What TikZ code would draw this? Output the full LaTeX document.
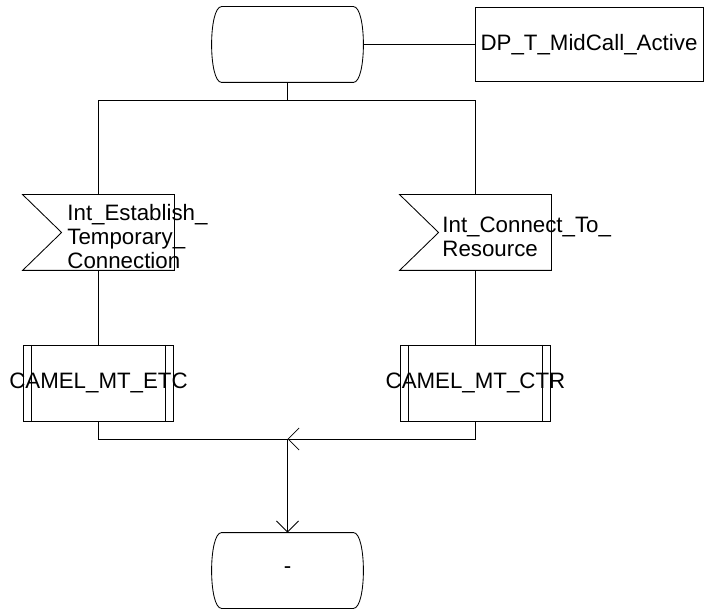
\documentclass[tikz,border=0pt]{standalone}
\usepackage{fontspec}
\setmainfont{Liberation Sans}
\usetikzlibrary{arrows.meta,positioning}

% outlines drawn round plain rectangle nodes
\newcommand{\sdlstate}[1]{\draw ([xshift=10pt]#1.north west) -- ([xshift=-10pt]#1.north east)
  .. controls ([xshift=3.3pt]#1.north east) and ([xshift=3.3pt]#1.south east) .. ([xshift=-10pt]#1.south east)
  -- ([xshift=10pt]#1.south west)
  .. controls ([xshift=-3.3pt]#1.south west) and ([xshift=-3.3pt]#1.north west) .. cycle;}
\newcommand{\sdlinput}[1]{\draw (#1.north west) -- (#1.north east) -- (#1.south east) -- (#1.south west)
  -- ([xshift=39pt]#1.west) -- cycle;}

\begin{document}
\begin{tikzpicture}[x=1pt, y=-1pt, line width=0.85pt,
  every node/.style={font=\fontsize{22.3}{24}\selectfont, inner sep=0pt},
  state/.style={rectangle, minimum width=151pt, minimum height=75pt},
  insig/.style={rectangle, minimum width=151pt, minimum height=75pt},
  proc/.style={draw, rectangle, minimum width=150pt, minimum height=76pt,
    path picture={\draw ([xshift=8pt]path picture bounding box.north west) -- ([xshift=8pt]path picture bounding box.south west)
      ([xshift=-8pt]path picture bounding box.north east) -- ([xshift=-8pt]path picture bounding box.south east);}},
  task/.style={draw, rectangle, minimum width=228pt, minimum height=74pt},
  sigtext/.style={align=left, anchor=west},
  arr/.style={-{Straight Barb[length=11pt, width=22pt]}}]
\useasboundingbox (0,0) rectangle (704,609);
% states and task
\node[state] (start) at (287.5,44.5) {};
\sdlstate{start}
\node[task] (dp) at (589,44.5) {DP\_T\_MidCall\_Active};
% input signals
\node[insig] (est) at (98.5,232.5) {};
\sdlinput{est}
\node[sigtext] (esttext) at (67,237) {Int\_Establish\_\\Temporary\_\\Connection};
\node[insig] (ctr) at (475.5,232.5) {};
\sdlinput{ctr}
\node[sigtext] (ctrtext) at (442,237) {Int\_Connect\_To\_\\Resource};
% procedure calls
\node[proc] (etc) at (98.5,383) {};
\node (etctext) at (etc.center) {CAMEL\_MT\_ETC};
\node[proc] (ctrproc) at (475.5,383) {};
\node (ctrproctext) at (ctrproc.center) {CAMEL\_MT\_CTR};
\node[state] (next) at (287.5,570.5) {-};
\sdlstate{next}
% connectors
\draw (start.east) -- (dp.west);
\draw (start.south) -- ++(0,18) coordinate (split);
\draw (est.north) |- (split) -| (ctr.north);
\draw (est.south) -- (etc.north);
\draw (ctr.south) -- (ctrproc.north);
\coordinate (merge) at (287.5,439);
\draw (etc.south) |- (merge);
\draw[arr] (ctrproc.south) |- (merge);
\draw[arr] (merge) -- (next.north);
\end{tikzpicture}
\end{document}
